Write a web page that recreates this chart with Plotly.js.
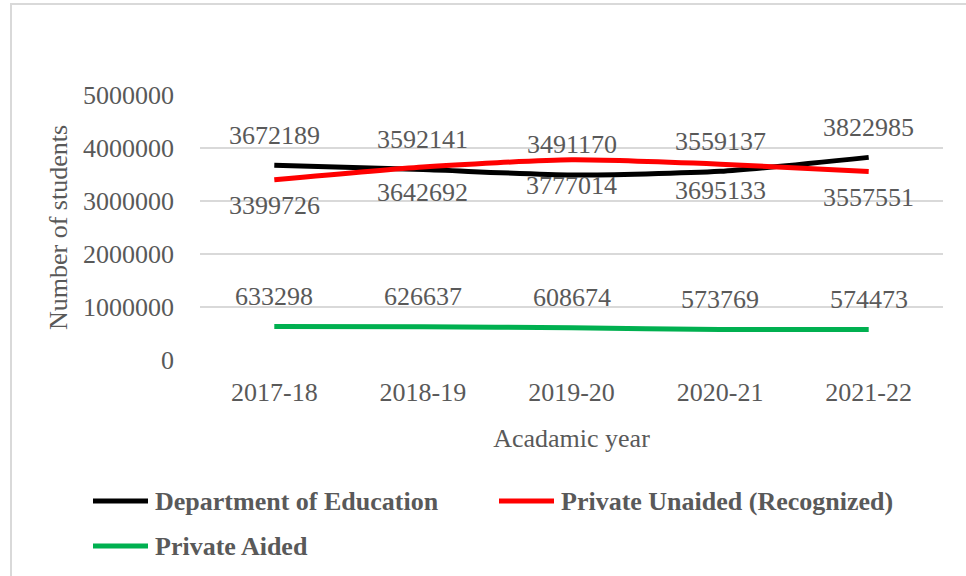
<!DOCTYPE html>
<html>
<head>
<meta charset="utf-8">
<script src="https://cdn.plot.ly/plotly-3.0.1.min.js"></script>
<style>
  html, body { margin: 0; padding: 0; overflow: hidden; background: #fff; }
  #chart { width: 966px; height: 576px; position: absolute; left: 0; top: 0; }
  #frame { position: absolute; left: 10px; top: 3px; width: 1100px; height: 800px;
           border: 2px solid #d9d9d9; pointer-events: none; }
</style>
</head>
<body>
<div id="chart"></div>
<div id="frame"></div>
<script>
const years = ["2017-18", "2018-19", "2019-20", "2020-21", "2021-22"];
const deptEducation = [3672189, 3592141, 3491170, 3559137, 3822985];
const privateUnaided = [3399726, 3642692, 3777014, 3695133, 3557551];
const privateAided = [633298, 626637, 608674, 573769, 574473];
const seriesNames = ["Department of Education", "Private Unaided (Recognized)", "Private Aided"];
const yTicks = [0, 1000000, 2000000, 3000000, 4000000, 5000000];

const FONT = "'Times New Roman', 'Liberation Serif', serif";
const TXT = "#595959";
const colors = ["#000000", "#ff0000", "#00b050"];
const series = [deptEducation, privateUnaided, privateAided];
const labelShift = [30, -26, 30];

const traces = series.map((vals, i) => ({
  type: "scatter",
  mode: "lines",
  name: seriesNames[i],
  x: years,
  y: vals,
  line: { color: colors[i], width: 5, shape: "spline", smoothing: 0.6 },
  showlegend: false,
  hoverinfo: "x+y+name"
}));

const annotations = [];
series.forEach((vals, i) => {
  vals.forEach((v, j) => {
    annotations.push({
      x: years[j], y: v, xref: "x", yref: "y",
      text: String(v), showarrow: false,
      yshift: labelShift[i],
      font: { family: FONT, size: 26, color: TXT }
    });
  });
});

// custom legend (pixel -> paper conversion)
const L = 200, R = 943, T = 95, B = 360;
const px = p => (p - L) / (R - L);
const py = p => (B - p) / (B - T);
const legendItems = [
  { x0: 93, x1: 148, tx: 153, y: 501 },
  { x0: 499, x1: 554, tx: 559, y: 501 },
  { x0: 93, x1: 148, tx: 153, y: 546 }
];
const shapes = [];
legendItems.forEach((it, i) => {
  shapes.push({
    type: "line", xref: "paper", yref: "paper",
    x0: px(it.x0), x1: px(it.x1), y0: py(it.y), y1: py(it.y),
    line: { color: colors[i], width: 5 }
  });
  annotations.push({
    xref: "paper", yref: "paper", x: px(it.tx), y: py(it.y),
    xanchor: "left", yanchor: "middle", showarrow: false,
    text: "<b>" + seriesNames[i] + "</b>",
    font: { family: FONT, size: 26, color: TXT }
  });
});

const layout = {
  width: 966, height: 576,
  margin: { l: L, r: 966 - R, t: T, b: 576 - B, pad: 0 },
  paper_bgcolor: "#ffffff", plot_bgcolor: "#ffffff",
  font: { family: FONT, size: 26, color: TXT },
  showlegend: false,
  xaxis: {
    type: "category", range: [-0.5, 4.5],
    showgrid: false, zeroline: false, showline: false,
    ticks: "", ticklabelstandoff: 14,
    tickfont: { family: FONT, size: 26, color: TXT },
    title: { text: "Acadamic year", standoff: 22, font: { family: FONT, size: 26, color: TXT } },
    automargin: false, fixedrange: true
  },
  yaxis: {
    range: [0, 5000000], tickvals: yTicks, ticktext: yTicks.map(String),
    showgrid: true, gridcolor: "#d9d9d9", gridwidth: 1.5,
    zeroline: false, showline: false, ticks: "",
    ticklabelstandoff: 25,
    tickfont: { family: FONT, size: 26, color: TXT },
    title: { text: "Number of students", standoff: 7, font: { family: FONT, size: 26, color: TXT } },
    automargin: false, fixedrange: true
  },
  annotations: annotations,
  shapes: shapes
};

Plotly.newPlot("chart", traces, layout, { displayModeBar: false, staticPlot: true });
</script>
</body>
</html>
